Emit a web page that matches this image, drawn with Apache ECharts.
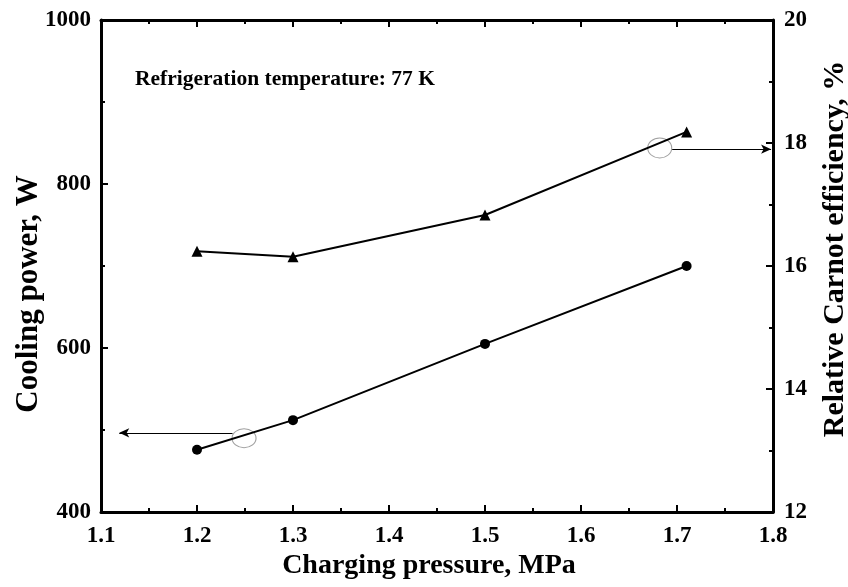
<!DOCTYPE html>
<html>
<head>
<meta charset="utf-8">
<script src="https://cdn.jsdelivr.net/npm/echarts@6/dist/echarts.min.js"></script>
<style>html,body{margin:0;padding:0;background:#fff}#c{width:848px;height:587px}</style>
</head>
<body>
<div id="c"></div>
<script>
// Data
const pressure = [1.2, 1.3, 1.5, 1.71];
const coolingPower = [476, 512, 605, 700];
const carnotEff = [16.24, 16.15, 16.83, 18.18];
const xTicks = ['1.1','1.2','1.3','1.4','1.5','1.6','1.7','1.8'];
const leftTicks = [400, 600, 800, 1000];
const rightTicks = [12, 14, 16, 18, 20];
const annotationText = 'Refrigeration temperature: 77 K';
// annotation positions (data coords)
const leftEllipse = [1.249, 490];
const leftArrow = [[1.237, 496.5], [1.119, 496.5]];
const rightEllipse = [1.682, 17.92];
const rightArrow = [[1.695, 17.9], [1.798, 17.9]];

const FONT = '"Liberation Serif","Times New Roman",serif';
const chart = echarts.init(document.getElementById('c'));
const axisLine = {show: true, lineStyle: {color: '#000', width: 3}};
const labelStyle = {color: '#000', fontFamily: FONT, fontWeight: 'bold', fontSize: 23};
const tick = {show: true, inside: true, length: 7, lineStyle: {color: '#000', width: 2}};
const minor = {show: true, splitNumber: 2, length: 4, lineStyle: {color: '#000', width: 2}};

chart.setOption({
  backgroundColor: '#fff',
  animation: false,
  title: {
    text: annotationText, left: 130, top: 63,
    textStyle: {color: '#000', fontFamily: FONT, fontWeight: 'bold', fontSize: 21.5}
  },
  grid: {left: 101, right: 75, top: 20, bottom: 75, outerBoundsMode: 'none', containLabel: false},
  xAxis: [{
    type: 'value', min: 1.1, max: 1.8, interval: 0.1, position: 'bottom',
    name: 'Charging pressure, MPa', nameLocation: 'middle', nameGap: 40, nameMoveOverlap: false,
    nameTextStyle: {color: '#000', fontFamily: FONT, fontWeight: 'bold', fontSize: 28, padding: [0, 16, 0, 0]},
    axisLine: axisLine, axisTick: tick, minorTick: minor,
    splitLine: {show: false},
    axisLabel: Object.assign({margin: 13, formatter: v => xTicks[Math.round((v - 1.1) * 10)]}, labelStyle)
  }, {
    type: 'value', min: 1.1, max: 1.8, interval: 0.1, position: 'top',
    axisLine: axisLine, axisTick: tick, minorTick: minor,
    splitLine: {show: false}, axisLabel: {show: false}
  }],
  yAxis: [{
    type: 'value', min: leftTicks[0], max: leftTicks[leftTicks.length-1], interval: 200, position: 'left',
    name: 'Cooling power, W', nameLocation: 'middle', nameGap: 57, nameMoveOverlap: false,
    nameTextStyle: {color: '#000', fontFamily: FONT, fontWeight: 'bold', fontSize: 31, padding: [0, 56, 0, 0]},
    axisLine: axisLine, axisTick: tick, minorTick: minor,
    splitLine: {show: false},
    axisLabel: Object.assign({margin: 10, formatter: v => String(v)}, labelStyle)
  }, {
    type: 'value', min: rightTicks[0], max: rightTicks[rightTicks.length-1], interval: 2, position: 'right',
    name: 'Relative Carnot efficiency, %', nameLocation: 'middle', nameGap: 47, nameMoveOverlap: false,
    nameTextStyle: {color: '#000', fontFamily: FONT, fontWeight: 'bold', fontSize: 30, padding: [0, 0, 0, 34]},
    axisLine: axisLine, axisTick: tick, minorTick: minor,
    splitLine: {show: false},
    axisLabel: Object.assign({margin: 11, formatter: v => String(v)}, labelStyle)
  }],
  series: [{
    type: 'line', xAxisIndex: 0, yAxisIndex: 0,
    data: pressure.map((x, i) => [x, coolingPower[i]]),
    symbol: 'circle', symbolSize: 10,
    lineStyle: {color: '#000', width: 2}, itemStyle: {color: '#000'},
    markLine: {
      silent: true, symbol: ['none', 'arrow'], symbolSize: [7, 10],
      lineStyle: {color: '#000', width: 1, type: 'solid'}, label: {show: false},
      data: [[{coord: leftArrow[0]}, {coord: leftArrow[1]}]]
    }
  }, {
    type: 'line', xAxisIndex: 0, yAxisIndex: 1,
    data: pressure.map((x, i) => [x, carnotEff[i]]),
    symbol: 'triangle', symbolSize: 11,
    lineStyle: {color: '#000', width: 2}, itemStyle: {color: '#000'},
    markLine: {
      silent: true, symbol: ['none', 'arrow'], symbolSize: [7, 10],
      lineStyle: {color: '#000', width: 1, type: 'solid'}, label: {show: false},
      data: [[{coord: rightArrow[0]}, {coord: rightArrow[1]}]]
    }
  }, {
    type: 'scatter', xAxisIndex: 0, yAxisIndex: 0,
    data: [leftEllipse], symbol: 'circle', symbolSize: [24, 19],
    itemStyle: {color: 'rgba(0,0,0,0)', borderColor: '#888', borderWidth: 1}
  }, {
    type: 'scatter', xAxisIndex: 0, yAxisIndex: 1,
    data: [rightEllipse], symbol: 'circle', symbolSize: [24, 20],
    itemStyle: {color: 'rgba(0,0,0,0)', borderColor: '#888', borderWidth: 1}
  }]
});
</script>
</body>
</html>
